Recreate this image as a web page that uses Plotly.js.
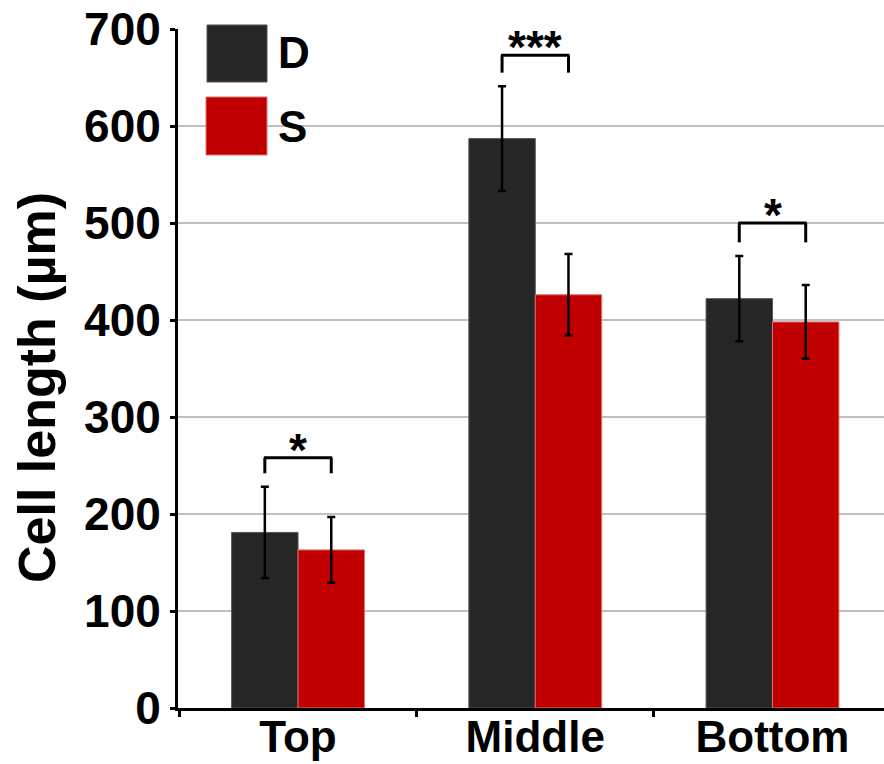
<!DOCTYPE html>
<html>
<head>
<meta charset="utf-8">
<script src="https://cdn.plot.ly/plotly-3.0.1.min.js"></script>
<style>html,body{margin:0;padding:0;background:#fff;}#chart{width:884px;height:764px;}</style>
</head>
<body>
<div id="chart"></div>
<script>
const categories = ['Top', 'Middle', 'Bottom'];
const seriesNames = ['D', 'S'];
const dValues = [181, 587, 422];
const sValues = [163, 426, 398];
const dErrors = [47, 54, 44];
const sErrors = [34, 42, 38];
const sigLabels = ['*', '***', '*'];
const bracketTop = [258, 673, 500];
const bracketLeg = [242, 655, 480];
const yTickVals = [0, 100, 200, 300, 400, 500, 600, 700];
const yTitle = 'Cell length (µm)';

const W = 884, H = 764;
const M = {l: 178, r: 0, t: 29, b: 56};
const pw = W - M.l - M.r, ph = H - M.t - M.b;
const px = p => (p - M.l) / pw;
const py = p => (H - M.b - p) / ph;

const colors = ['#262626', '#c00000'];
const edge = ['#555555', '#e07070'];
const font = 'Liberation Sans, Arial, sans-serif';

const vals = [dValues, sValues];
const errs = [dErrors, sErrors];
const traces = seriesNames.map((n, k) => ({
  type: 'bar', name: n, x: categories, y: vals[k],
  marker: {color: colors[k], line: {color: edge[k], width: 1}},
  error_y: {type: 'data', array: errs[k], visible: true, color: '#000', thickness: 2.5, width: 4},
  hoverinfo: 'none'
}));

const half = 0.14;
const shapes = [];
const annotations = [];
categories.forEach((c, i) => {
  const x0 = i - half, x1 = i + half;
  const ln = {color: '#000', width: 3};
  shapes.push({type: 'line', xref: 'x', yref: 'y', x0: x0, x1: x0, y0: bracketLeg[i], y1: bracketTop[i], line: ln});
  shapes.push({type: 'line', xref: 'x', yref: 'y', x0: x1, x1: x1, y0: bracketLeg[i], y1: bracketTop[i], line: ln});
  shapes.push({type: 'line', xref: 'x', yref: 'y', x0: x0 - 0.004, x1: x1 + 0.004, y0: bracketTop[i], y1: bracketTop[i], line: ln});
  annotations.push({xref: 'x', yref: 'y', x: i, y: bracketTop[i], text: sigLabels[i], showarrow: false,
    yanchor: 'middle', xanchor: 'center', yshift: 8,
    font: {family: font, size: 46, weight: 'bold', color: '#000'}});
});

// legend
const legBoxes = [[207, 267, 25, 82], [206, 267, 97, 155]];
const legTextY = [53, 126];
seriesNames.forEach((n, k) => {
  const b = legBoxes[k];
  shapes.push({type: 'rect', xref: 'paper', yref: 'paper', x0: px(b[0]), x1: px(b[1]), y0: py(b[3]), y1: py(b[2]),
    fillcolor: colors[k], line: {color: edge[k], width: 1}});
  annotations.push({xref: 'paper', yref: 'paper', x: px(276), y: py(legTextY[k]), text: n, showarrow: false,
    xanchor: 'left', yanchor: 'middle', font: {family: font, size: 44, weight: 'bold', color: '#000'}});
});

annotations.push({xref: 'paper', yref: 'paper', x: px(37), y: py(388), text: yTitle, textangle: -90, showarrow: false,
  xanchor: 'center', yanchor: 'middle', font: {family: font, size: 52, weight: 'bold', color: '#000'}});

const layout = {
  width: W, height: H, margin: M,
  paper_bgcolor: '#fff', plot_bgcolor: '#fff',
  showlegend: false,
  barmode: 'group', bargap: 0.44, bargroupgap: 0,
  xaxis: {
    type: 'category', range: [-0.506, 2.47],
    showline: true, linecolor: '#000', linewidth: 3,
    ticks: 'outside', tickson: 'boundaries', ticklen: 6, tickwidth: 3, tickcolor: '#000',
    ticklabelstandoff: -12,
    tickfont: {family: font, size: 44, weight: 'bold', color: '#000'},
    showgrid: false, zeroline: false, fixedrange: true
  },
  yaxis: {
    range: [0, 700], tickvals: yTickVals, ticktext: yTickVals.map(String),
    showline: true, linecolor: '#000', linewidth: 3,
    ticks: 'outside', ticklen: 5, tickwidth: 3, tickcolor: '#000',
    ticklabelstandoff: 0,
    tickfont: {family: font, size: 46, weight: 'bold', color: '#000'},
    showgrid: true, gridcolor: '#c0c0c0', gridwidth: 1.5, zeroline: false, fixedrange: true
  },
  shapes: shapes, annotations: annotations
};

Plotly.newPlot('chart', traces, layout, {staticPlot: true, displayModeBar: false});
</script>
</body>
</html>
